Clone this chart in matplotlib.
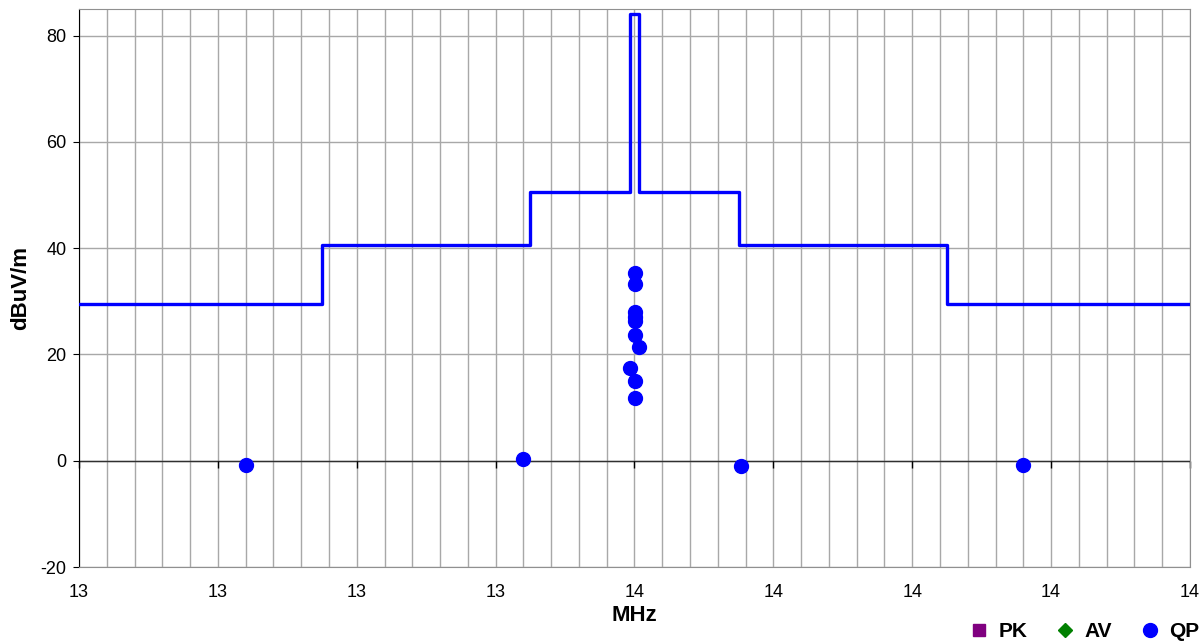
import numpy as np
import matplotlib
matplotlib.use("Agg")
import matplotlib.pyplot as plt
from matplotlib.ticker import FixedLocator, FuncFormatter
from matplotlib.lines import Line2D

plt.rcParams['font.family'] = ['Liberation Sans', 'DejaVu Sans']
plt.rcParams['axes.unicode_minus'] = False

# Limit mask (MHz, dBuV/m) - step, held until next frequency
mask_freq = [12.76, 13.11, 13.41, 13.553, 13.567, 13.71, 14.01, 14.36]
mask_level = [29.5, 40.5, 50.5, 84.0, 50.5, 40.5, 29.5, 29.5]

# QP measurements
qp_freq = [13.00, 13.40, 13.713, 14.12,
           13.56, 13.56, 13.56, 13.56, 13.56, 13.56, 13.567, 13.553, 13.56, 13.56]
qp_level = [-0.8, 0.4, -1.0, -0.9,
            35.3, 33.3, 27.9, 27.0, 26.2, 23.7, 21.4, 17.5, 15.0, 11.8]

x_min, x_max = 12.76, 14.36
y_min, y_max = -20, 85
y_ticks = [-20, 0, 20, 40, 60, 80]

fig = plt.figure(figsize=(12.04, 6.41), dpi=100)
ax = fig.add_axes([79/1204, 1 - 567/641, (1190-79)/1204, (567-9)/641])

major_x = np.linspace(x_min, x_max, 9)
minor_x = np.linspace(x_min, x_max, 41)
ax.xaxis.set_major_locator(FixedLocator(major_x))
ax.xaxis.set_minor_locator(FixedLocator(minor_x))
ax.xaxis.set_major_formatter(FuncFormatter(lambda v, p: f"{v:.0f}"))
ax.yaxis.set_major_locator(FixedLocator(y_ticks))

ax.grid(True, which='both', axis='x', color='#a8a8a8', lw=1)
ax.grid(True, which='major', axis='y', color='#a8a8a8', lw=1)
ax.set_axisbelow(True)

ax.axhline(0, color='#303030', lw=1, zorder=1.5)
ax.plot(major_x, np.zeros_like(major_x), ls='none', marker=3, markersize=5,
        color='black', mew=1, zorder=1.6, clip_on=False)

ax.step(mask_freq, mask_level, where='post', color='#0000ff', lw=2.4, zorder=3)
ax.plot(qp_freq, qp_level, ls='none', marker='o', markersize=10,
        color='#0000ff', zorder=4)

ax.set_xlim(x_min, x_max)
ax.set_ylim(y_min, y_max)

for s in ['top', 'right', 'bottom']:
    ax.spines[s].set_color('#909090')
ax.spines['left'].set_color('black')
ax.tick_params(axis='x', which='both', length=0, labelsize=13, pad=12)
ax.tick_params(axis='y', length=4, labelsize=13, color='black', pad=5)

ax.set_xlabel('MHz', fontsize=16, fontweight='bold', labelpad=3)
ax.set_ylabel('dBuV/m', fontsize=16, fontweight='bold', labelpad=7)

handles = [
    Line2D([], [], ls='none', marker='s', color='#800080', markersize=9),
    Line2D([], [], ls='none', marker='D', color='#008000', markersize=7),
    Line2D([], [], ls='none', marker='o', color='#0000ff', markersize=10),
]
fig.legend(handles, ['PK', 'AV', 'QP'], loc='lower right', ncol=3,
           bbox_to_anchor=(1.012, -0.03), frameon=False,
           prop={'weight': 'bold', 'size': 15}, handletextpad=0.25,
           columnspacing=1.1, handlelength=1.4)

fig.savefig('out.png', dpi=100)
